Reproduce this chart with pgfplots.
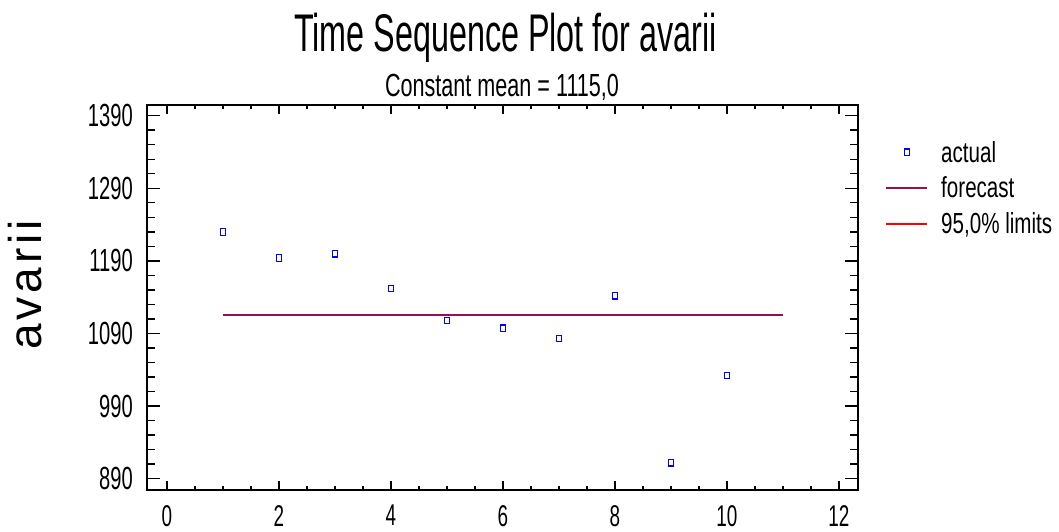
\documentclass[border=0pt]{standalone}
\usepackage{fontspec}
\setmainfont{Liberation Sans}[FakeStretch=0.65]
\newfontfamily\titlefont{Liberation Sans}[FakeStretch=0.61]
\newfontfamily\subfont{Liberation Sans}[FakeStretch=0.675]
\newfontfamily\tickfont{Liberation Sans}[FakeStretch=0.63]
\newfontfamily\legfont{Liberation Sans}[FakeStretch=0.71]
\newfontfamily\widefont{Liberation Sans}
\usepackage{pgfplots}
\pgfplotsset{compat=1.18}

\definecolor{fcast}{RGB}{150,15,80}
\definecolor{markblue}{RGB}{0,0,255}

% series: time index, avarii
\pgfplotstableread{
t  y
1  1230
2  1194
3  1200
4  1152
5  1108
6  1097
7  1083
8  1142
9  912
10 1032
}\actual

\begin{document}
\begin{tikzpicture}
\useasboundingbox (-147pt,-42pt) rectangle (912pt,490pt);
\begin{axis}[
    at={(0pt,0pt)}, anchor=south west,
    width=711pt, height=385pt, scale only axis,
    xmin=-0.357, xmax=12.34,
    ymin=874.4, ymax=1404.7,
    xtick={0,2,...,12},
    ytick={890,990,...,1390},
    minor x tick num=3,
    minor y tick num=4,
    tick align=inside,
    major tick length=13pt, minor tick length=8pt,
    xtick style={/pgfplots/major tick length=9pt,/pgfplots/minor tick length=4.5pt},
    axis line style={line width=1.6pt},
    every tick/.style={black, line width=1.4pt},
    tick label style={font=\tickfont\fontsize{32}{36}\selectfont},
    /pgf/number format/assume math mode=true,
    /pgf/number format/1000 sep={},
    yticklabel style={anchor=east, inner sep=0pt, xshift=-14pt},
    xticklabel style={anchor=north, inner sep=0pt, yshift=-15pt,
        font=\tickfont\fontsize{30}{34}\selectfont},
    legend style={at={(1.038,0.912)}, anchor=north west, draw=none, fill=none,
        inner sep=0pt, row sep=9.2pt,
        font=\legfont\fontsize{29}{33}\selectfont,
        /tikz/every odd column/.append style={column sep=11pt}},
    legend cell align=left,
    legend image code/.code={\draw[#1] (0pt,0pt) -- (41pt,0pt);},
]
\addplot[only marks, mark=square, mark size=3.3pt, color=markblue,
    mark options={xscale=0.75, line width=1.2pt},
    legend image code/.code={\draw[##1] plot[only marks] coordinates {(20.5pt,0pt)};}]
    table[x=t, y=y] {\actual};
\addlegendentry{actual}
\addplot[color=fcast, line width=2pt] coordinates {(1,1115) (11,1115)};
\addlegendentry{forecast}
\addlegendimage{red, line width=1.8pt}
\addlegendentry{95,0\% limits}
\end{axis}
\node[anchor=base, font=\titlefont\fontsize{53}{60}\selectfont] at (358.5pt,438pt) {Time Sequence Plot for avarii};
\node[anchor=base, font=\subfont\fontsize{32}{36}\selectfont] at (355pt,393pt) {Constant mean = 1115,0};
\node[rotate=90, font=\widefont\fontsize{46}{50}\selectfont] at (-122pt,205pt)
    {a\hspace{4pt}v\hspace{4pt}a\hspace{4pt}r\hspace{4pt}i\hspace{4pt}i};
\end{tikzpicture}
\end{document}
